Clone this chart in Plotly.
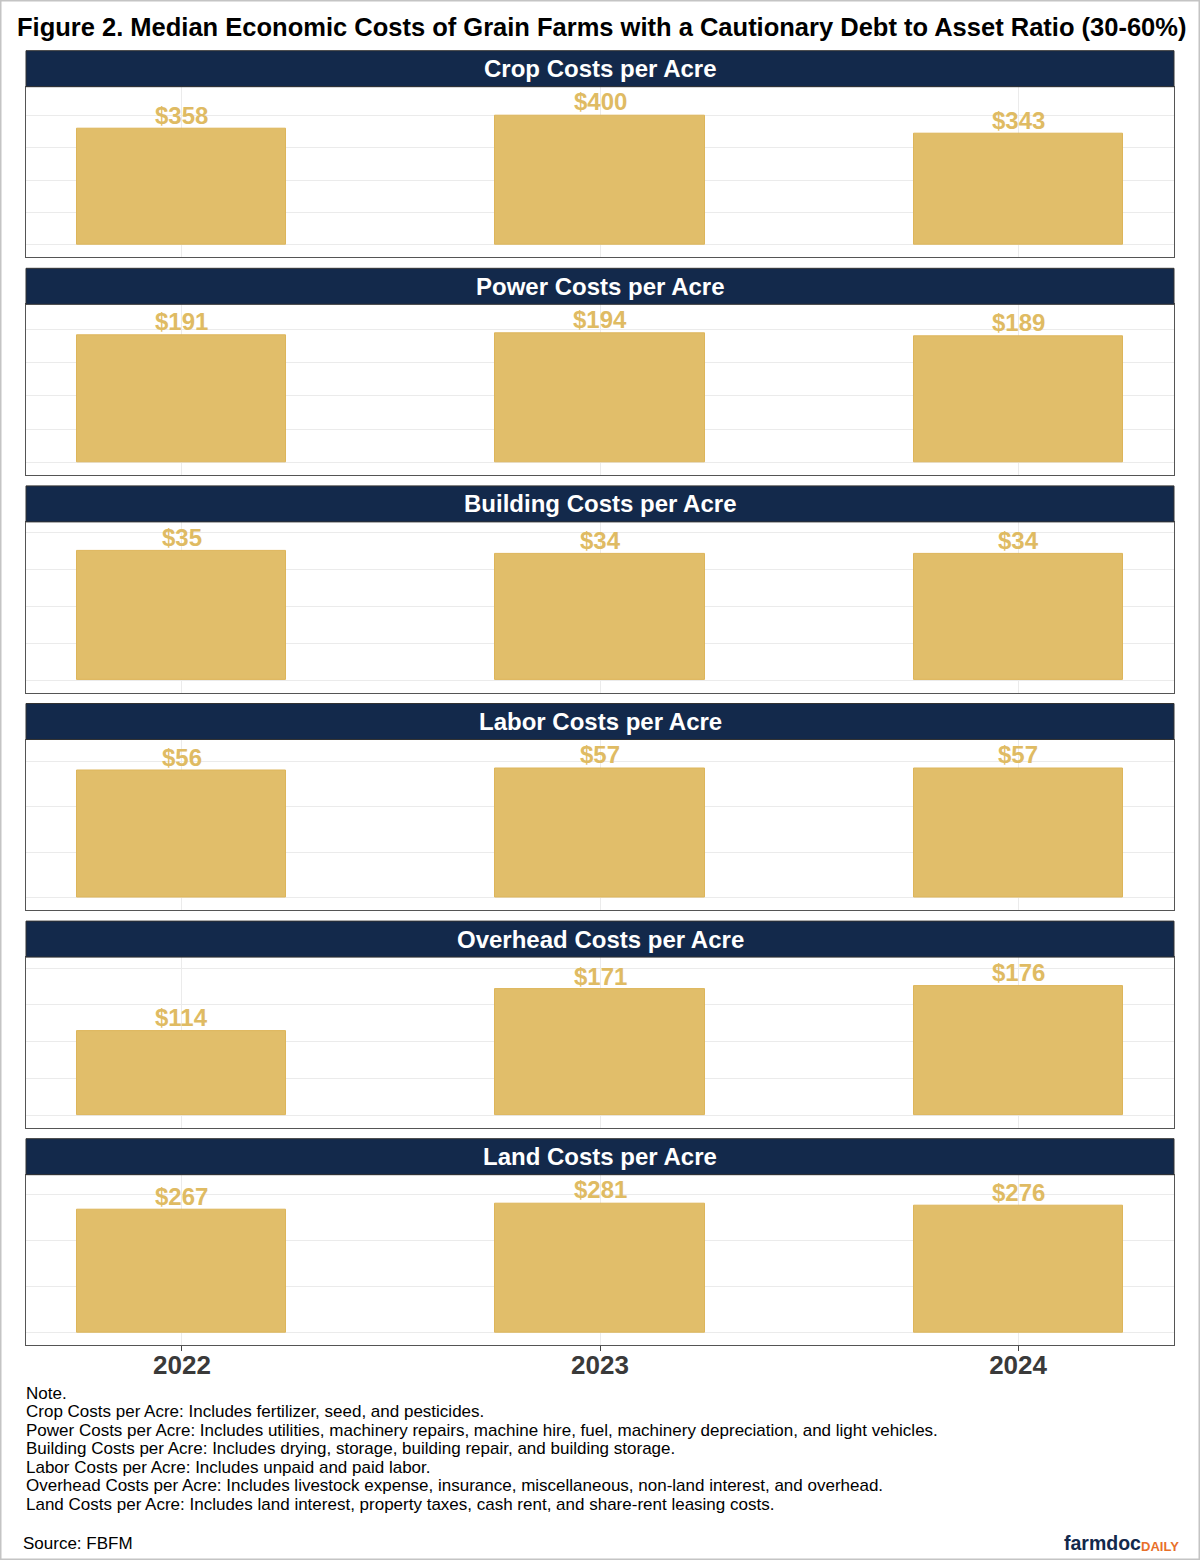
import plotly.graph_objects as go

# data
years = ['2022', '2023', '2024']
panels = ['Crop Costs per Acre', 'Power Costs per Acre', 'Building Costs per Acre',
          'Labor Costs per Acre', 'Overhead Costs per Acre', 'Land Costs per Acre']
crop = [358, 400, 343]
power = [191, 194, 189]
building = [35, 34, 34]
labor = [56, 57, 57]
overhead = [114, 171, 176]
land = [267, 281, 276]
grid_step = [100, 50, 10, 20, 50, 100]

title = 'Figure 2. Median Economic Costs of Grain Farms with a Cautionary Debt to Asset Ratio (30-60%)'
notes = [
    'Note.',
    'Crop Costs per Acre: Includes fertilizer, seed, and pesticides.',
    'Power Costs per Acre: Includes utilities, machinery repairs, machine hire, fuel, machinery depreciation, and light vehicles.',
    'Building Costs per Acre: Includes drying, storage, building repair, and building storage.',
    'Labor Costs per Acre: Includes unpaid and paid labor.',
    'Overhead Costs per Acre: Includes livestock expense, insurance, miscellaneous, non-land interest, and overhead.',
    'Land Costs per Acre: Includes land interest, property taxes, cash rent, and share-rent leasing costs.',
]
source = 'Source: FBFM'

W, H = 1200, 1560
NAVY = '#13294B'
GOLD = '#E1BE6A'
FONT = 'Liberation Sans, Arial, sans-serif'

def px(p):
    return p / W

def py(p):
    return 1 - p / H

series = [crop, power, building, labor, overhead, land]

fig = go.Figure()
shapes = []
annotations = []

for i, (name, vals) in enumerate(zip(panels, series)):
    n = i + 1
    strip_top = 50.7 + 217.6 * i
    plot_top = strip_top + 36
    plot_bot = plot_top + 170.6
    m = max(vals)
    sfx = '' if n == 1 else str(n)
    xa, ya = 'x' + sfx, 'y' + sfx

    fig.add_trace(go.Bar(
        x=years, y=vals, width=0.5,
        marker=dict(color=GOLD, line=dict(color='#DDB55A', width=1)),
        xaxis=xa, yaxis=ya, showlegend=False, hoverinfo='skip'))

    # value labels just above each bar (category axis -> position index)
    for k, v in enumerate(vals):
        annotations.append(dict(text='${}'.format(v), xref=xa, yref=ya, x=k, y=v,
                                xanchor='center', yanchor='bottom', yshift=-2,
                                showarrow=False,
                                font=dict(family=FONT, size=24, color='#DFBB63', weight='bold')))

    last = (i == len(panels) - 1)
    fig.update_layout({
        'xaxis' + sfx: dict(
            domain=[px(26), px(1174)], anchor=ya,
            range=[-0.373, 2.373], type='category',
            showgrid=True, gridcolor='#EBEBEB', gridwidth=1,
            showline=True, mirror=True, linecolor='#555555', linewidth=1,
            showticklabels=last, ticks='outside' if last else '',
            ticklen=5, tickcolor='#444444', ticklabelstandoff=-9,
            tickfont=dict(family=FONT, size=26, color='#3A3A3A', weight='bold'),
            fixedrange=True),
        'yaxis' + sfx: dict(
            domain=[py(plot_bot), py(plot_top)], anchor=xa,
            range=[-0.096 * m, 1.222 * m], dtick=grid_step[i], tick0=0,
            showgrid=True, gridcolor='#EBEBEB', gridwidth=1, zeroline=False,
            showline=True, mirror=True, linecolor='#555555', linewidth=1,
            showticklabels=False, ticks='', fixedrange=True),
    })

    # facet strip
    shapes.append(dict(type='rect', xref='paper', yref='paper',
                       x0=px(26), x1=px(1174), y0=py(plot_top), y1=py(strip_top),
                       fillcolor=NAVY, line=dict(color='#333333', width=1), layer='above'))
    annotations.append(dict(text=name, xref='paper', yref='paper',
                            x=0.5, y=py((strip_top + plot_top) / 2),
                            xanchor='center', yanchor='middle', showarrow=False,
                            font=dict(family=FONT, size=24, color='white', weight='bold')))

# title
annotations.append(dict(text=title, xref='paper', yref='paper', x=px(15), y=py(27),
                        xanchor='left', yanchor='middle', showarrow=False,
                        font=dict(family=FONT, size=25.5, color='black', weight='bold')))

# notes
for k, line in enumerate(notes):
    annotations.append(dict(text=line, xref='paper', yref='paper',
                            x=px(24), y=py(1393 + 18.5 * k),
                            xanchor='left', yanchor='middle', showarrow=False,
                            font=dict(family=FONT, size=17, color='black')))

annotations.append(dict(text=source, xref='paper', yref='paper', x=px(21), y=py(1543),
                        xanchor='left', yanchor='middle', showarrow=False,
                        font=dict(family=FONT, size=17, color='black')))

# farmdocDAILY mark
annotations.append(dict(text='DAILY', xref='paper', yref='paper', x=px(1181), y=py(1546),
                        xanchor='right', yanchor='middle', showarrow=False,
                        font=dict(family=FONT, size=13, color='#E8702A', weight='bold')))
annotations.append(dict(text='farmdoc', xref='paper', yref='paper', x=px(1143), y=py(1543),
                        xanchor='right', yanchor='middle', showarrow=False,
                        font=dict(family=FONT, size=19.5, color=NAVY, weight='bold')))

# outer frame
shapes.append(dict(type='rect', xref='paper', yref='paper', x0=0, x1=1, y0=0, y1=1,
                   line=dict(color='#C4C4C4', width=3), fillcolor='rgba(0,0,0,0)'))

fig.update_layout(
    width=W, height=H,
    margin=dict(l=0, r=0, t=0, b=0),
    paper_bgcolor='white', plot_bgcolor='white',
    shapes=shapes, annotations=annotations,
    bargap=0,
)

# the page body has an 8px default margin; drop it so the figure fills the window
fig.write_html('out.html', config={'displayModeBar': False},
               post_script="document.body.style.margin='0';")
